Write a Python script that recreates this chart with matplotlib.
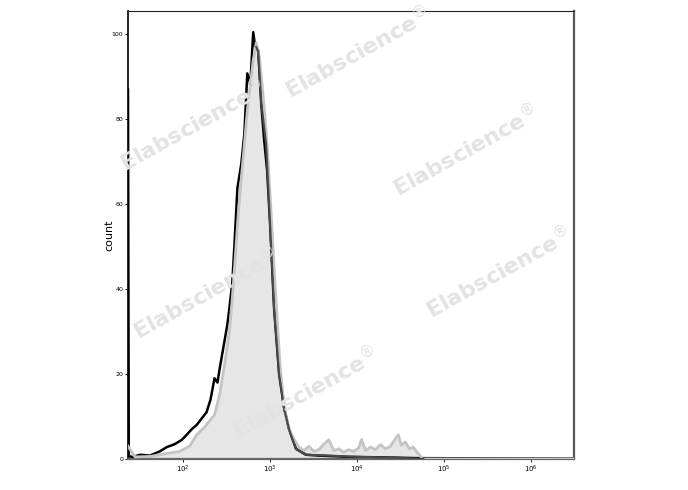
import matplotlib
matplotlib.use("Agg")
import matplotlib.pyplot as plt
import numpy

# log10 of fluorescence at bin centres, and counts
black_log = [1.371, 1.38, 1.429, 1.509, 1.623, 1.737, 1.817, 1.909, 1.989, 2.046, 2.103, 2.160, 2.217,
             2.274, 2.320, 2.366, 2.400, 2.423, 2.457, 2.480, 2.514, 2.537, 2.571, 2.594, 2.629, 2.674,
             2.709, 2.743, 2.777, 2.811, 2.834, 2.869, 2.903, 2.937, 2.971, 3.006, 3.051, 3.109, 3.166,
             3.223, 3.303, 3.417, 3.566, 3.909, 4.251, 4.709, 6.5]
black_cnt = [87, 0.6, 0.5, 1.0, 0.8, 1.8, 2.8, 3.5, 4.5, 5.7, 7.0, 8.0, 9.5,
             11.0, 14.0, 19.0, 18.0, 21.0, 25.0, 27.7, 31.7, 35.5, 41.8, 50.0, 63.8, 69.5,
             76.6, 90.8, 88.0, 100.5, 97.0, 96.0, 83.7, 75.0, 68.0, 55.0, 35.5, 20.0, 12.0,
             7.0, 2.4, 1.0, 0.8, 0.5, 0.4, 0.2, 0.1]

dgrey_log = [2.846, 2.869, 2.903, 2.960, 2.994, 3.051, 3.109, 3.166,
             3.223, 3.303, 3.417, 3.680, 4.023, 4.480, 4.766]
dgrey_cnt = [97.0, 96.0, 84.0, 74.0, 60.0, 35.5, 20.0, 12.0,
             7.0, 2.4, 1.0, 0.8, 0.5, 0.3, 0.0]

fill_log = [1.371, 1.451, 1.623, 1.794, 1.966, 2.080, 2.160, 2.251, 2.366, 2.423, 2.480, 2.537,
            2.571, 2.606, 2.640, 2.674, 2.709, 2.743, 2.777, 2.811, 2.846, 2.880, 2.914, 2.949,
            2.983, 3.017, 3.051, 3.086, 3.120, 3.154, 3.189, 3.234, 3.280, 3.337, 3.394, 3.451,
            3.509, 3.566, 3.623, 3.680, 3.737, 3.794, 3.851, 3.909, 3.966, 4.023, 4.057, 4.103,
            4.160, 4.217, 4.274, 4.331, 4.389, 4.446, 4.480, 4.514, 4.560, 4.606, 4.651, 4.697,
            4.731, 4.754, 6.5]
fill_cnt = [3.0, 0.5, 0.6, 1.2, 1.8, 3.0, 5.7, 7.5, 10.4, 15.0, 22.0, 30.0,
            38.0, 48.0, 58.0, 66.0, 74.0, 82.0, 88.0, 94.0, 98.0, 95.0, 88.0, 80.0,
            70.0, 58.0, 45.0, 33.0, 22.0, 15.0, 10.0, 6.5, 4.7, 2.8, 2.0, 3.0,
            1.8, 2.2, 3.5, 4.5, 2.0, 2.4, 1.6, 2.2, 1.8, 2.6, 4.6, 2.0,
            2.8, 2.2, 3.4, 2.4, 3.0, 4.8, 5.7, 3.2, 4.0, 2.4, 2.8, 1.5,
            0.8, 0.0, 0.0]

tick_pos = [1e2, 1e3, 1e4, 1e5, 1e6]
tick_txt = ["$10^2$", "$10^3$", "$10^4$", "$10^5$", "$10^6$"]

watermark_xy = [(357, 52), (192, 125), (465, 150), (498, 272), (205, 293), (305, 392)]

fig = plt.figure(figsize=(6.88, 4.9), dpi=100)
ax = fig.add_axes([128 / 688, 1 - 459 / 490, 446 / 688, 448 / 490])

fx = 10 ** numpy.array(fill_log)
ax.fill_between(fx, fill_cnt, color="#e6e6e6", lw=0, zorder=1)
ax.plot(10 ** numpy.array(black_log), black_cnt, color="black", lw=1.8, zorder=2)
ax.plot(fx, fill_cnt, color="#c4c4c4", lw=2.0, zorder=3)
ax.plot(10 ** numpy.array(dgrey_log), dgrey_cnt, color="#4a4a4a", lw=1.5, zorder=4)

ax.set_xscale("log")
ax.set_xlim(10 ** 1.371, 10 ** 6.5)
ax.set_ylim(0, 105.5)
ax.set_xticks(tick_pos)
ax.set_xticklabels(tick_txt, fontsize=5)
ax.xaxis.set_minor_locator(matplotlib.ticker.NullLocator())
ax.set_yticks([0, 20, 40, 60, 80, 100])
ax.set_yticklabels(["0", "20", "40", "60", "80", "100"], fontsize=4.5)
ax.tick_params(length=2, width=0.6, pad=1.5)
ax.set_ylabel("count", fontsize=8)
ax.yaxis.set_label_coords(-0.03, 0.5)

ax.spines["left"].set_color("black")
ax.spines["left"].set_linewidth(1.2)
ax.spines["top"].set_color("#222222")
ax.spines["top"].set_linewidth(0.8)
ax.spines["right"].set_color("#555555")
ax.spines["right"].set_linewidth(1.6)
ax.spines["bottom"].set_color("#666666")
ax.spines["bottom"].set_linewidth(1.6)

for (px, py) in watermark_xy:
    fig.text(px / 688, 1 - py / 490, "Elabscience$^{®}$", fontsize=16, fontweight="bold",
             color="#e3e3e3", rotation=29, ha="center", va="center", zorder=10)

fig.savefig("out.png", dpi=100)
